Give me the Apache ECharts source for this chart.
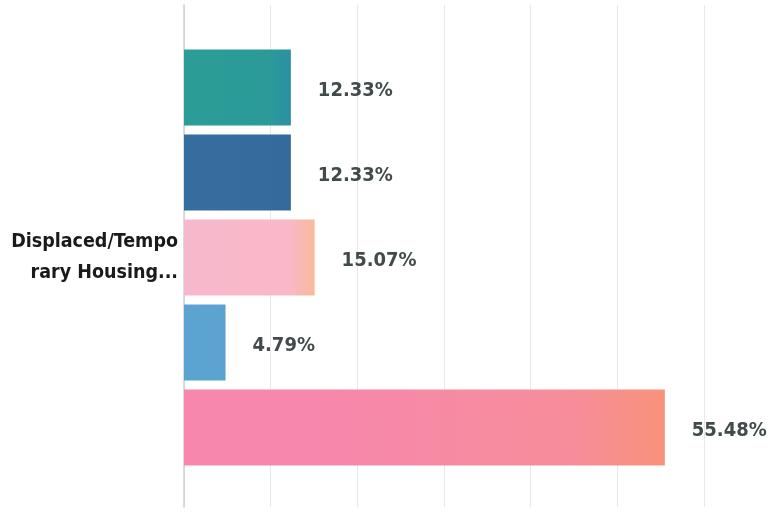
<!DOCTYPE html>
<html>
<head>
<meta charset="utf-8">
<script src="https://cdn.jsdelivr.net/npm/echarts@6/dist/echarts.min.js"></script>
<style>
  html, body { margin: 0; padding: 0; background: #fff; }
  #chart { width: 776px; height: 512px; }
</style>
</head>
<body>
<div id="chart"></div>
<script>
// data
const categories = ['', '', 'Displaced/Temporary Housing...', '', ''];
const values = [12.33, 12.33, 15.07, 4.79, 55.48];
const xTicks = [0, 10, 20, 30, 40, 50, 60];

// bar fills (left, middle, right)
const barColors = [
  ['#2b9c96', '#2b9a98', '#2a90a2'],
  ['#346d9e', '#346c9d', '#336a9a'],
  ['#f8b8cb', '#f8b8c8', '#f8b99b'],
  ['#5ba4d2', '#5ba3d1', '#5aa0cc'],
  ['#f787ad', '#f78d9b', '#f8927a']
];

const chart = echarts.init(document.getElementById('chart'));

const grad = c => new echarts.graphic.LinearGradient(0, 0, 1, 0, [
  { offset: 0, color: c[0] },
  { offset: 0.25, color: c[0] },
  { offset: 0.8, color: c[1] },
  { offset: 1, color: c[2] }
]);

let option = {
  backgroundColor: '#fff',
  animation: false,
  grid: [
    // background grid: only for the long gridlines
    { left: 184, right: 72, top: 5, bottom: 5 },
    // bars
    { left: 184, right: 72, top: 45, bottom: 42 }
  ],
  xAxis: [
    {
      gridIndex: 0, type: 'value', min: 0, max: xTicks[xTicks.length - 1], interval: 10,
      axisLabel: { show: false }, axisLine: { show: false }, axisTick: { show: false },
      splitLine: { show: true, lineStyle: { color: '#e8e8e8', width: 1 } }
    },
    {
      gridIndex: 1, type: 'value', min: 0, max: xTicks[xTicks.length - 1], interval: 10,
      axisLabel: { show: false }, axisLine: { show: false }, axisTick: { show: false },
      splitLine: { show: false }
    }
  ],
  yAxis: [
    {
      gridIndex: 0, type: 'value', min: 0, max: 1,
      axisLabel: { show: false }, axisTick: { show: false }, splitLine: { show: false },
      axisLine: { show: true, lineStyle: { color: '#cfcfcf', width: 1.5 } }
    },
    {
      gridIndex: 1, type: 'category', inverse: true, data: categories,
      axisLine: { show: false }, axisTick: { show: false },
      axisLabel: {
        margin: 6,
        color: '#1a1a1a',
        fontFamily: 'DejaVu Sans Condensed',
        fontWeight: 'bold',
        fontSize: 19.5,
        lineHeight: 31,
        align: 'right',
        formatter: v => v.length > 15 ? v.slice(0, 15) + '\n' + v.slice(15) : v
      }
    }
  ],
  series: [
    {
      type: 'bar',
      xAxisIndex: 1,
      yAxisIndex: 1,
      barWidth: 76,
      data: values.map((v, i) => ({ value: v, itemStyle: { color: grad(barColors[i]) } })),
      label: {
        show: true,
        position: 'right',
        distance: 27,
        offset: [0, 3],
        formatter: p => p.value.toFixed(2) + '%',
        color: '#414b4b',
        fontFamily: 'DejaVu Sans Condensed',
        fontWeight: 'bold',
        fontSize: 20
      }
    }
  ]
};

chart.setOption(option);
</script>
</body>
</html>
